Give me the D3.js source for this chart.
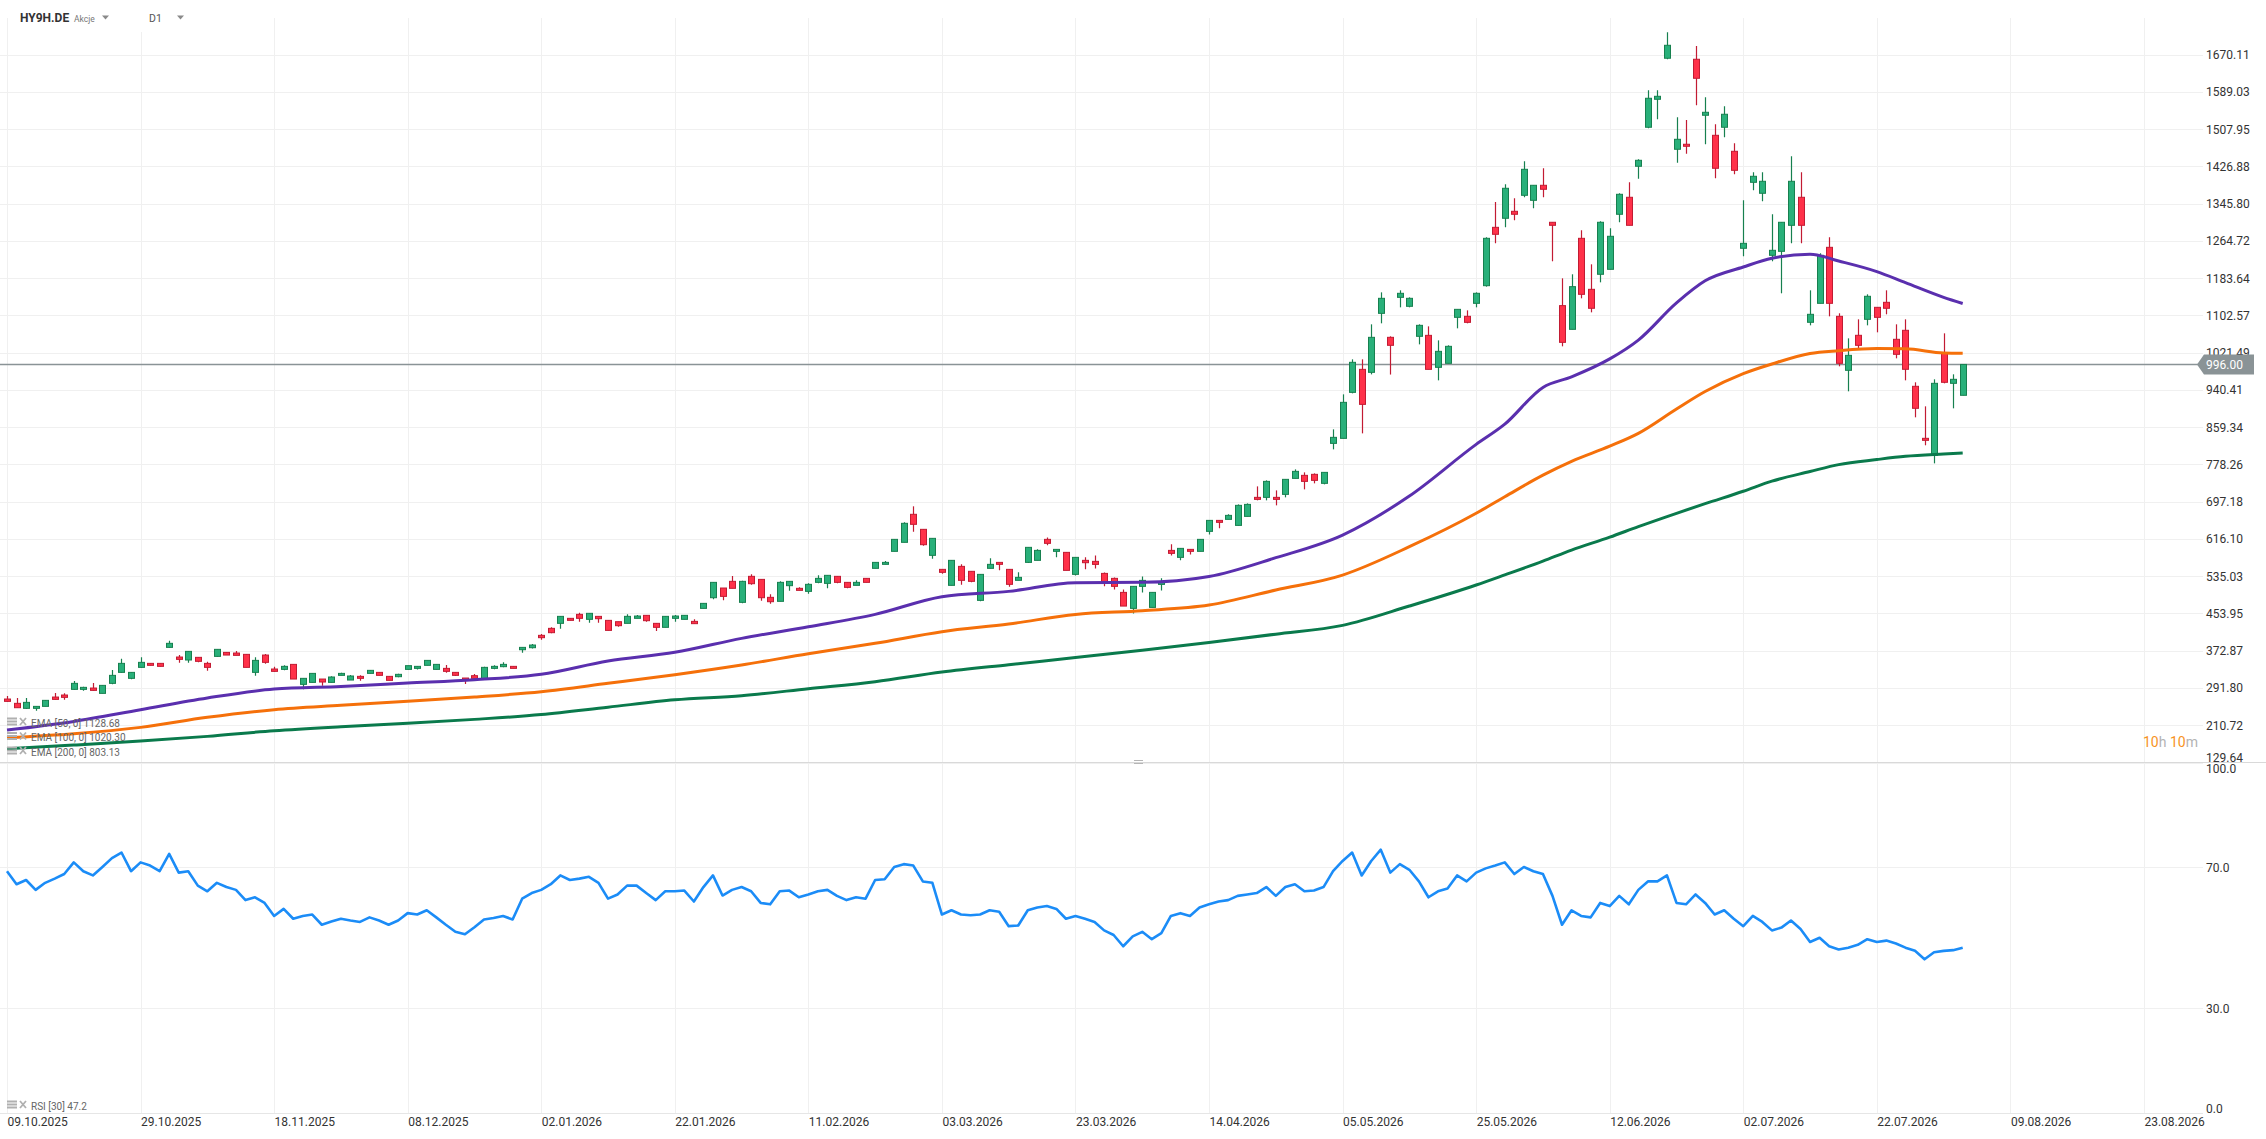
<!DOCTYPE html>
<html>
<head>
<meta charset="utf-8">
<script src="https://cdn.jsdelivr.net/npm/d3@7"></script>
<style>
  body { margin: 0; background: #fff; }
  svg { display: block; }
</style>
</head>
<body>
<script>
// HY9H.DE daily candles with EMA 50/100/200 and RSI(30)

var opens = [267.8,258.4,247.5,247.5,251.8,272.1,276.5,288.8,288.8,291.7,
  280.1,301.9,325.8,312.8,336.7,345.4,345.4,380.2,359.2,352.7,
  358.5,345.4,360.6,369.3,367.9,365.0,325.8,363.5,333.1,332.3,
  343.2,299.7,304.0,311.3,304.0,319.3,309.1,317.1,323.6,325.8,
  317.1,316.4,332.3,334.5,341.1,332.3,334.5,325.8,313.5,318.6,
  311.3,334.5,338.2,338.9,375.1,379.5,406.4,421.6,432.5,443.4,
  452.1,441.2,447.7,439.0,436.1,432.5,443.4,449.9,432.5,423.8,
  443.4,441.2,436.8,465.1,488.3,509.4,523.9,478.2,534.8,528.2,
  489.1,480.4,514.5,508.7,502.1,521.7,519.5,534.8,521.7,515.2,
  530.4,552.2,560.9,589.2,608.8,669.8,637.1,580.5,550.0,515.2,
  556.5,545.7,482.5,552.2,565.2,550.0,526.1,565.2,569.6,615.3,
  589.2,587.0,539.1,569.6,567.4,541.2,530.4,499.9,465.1,513.0,
  467.2,517.3,591.3,576.1,593.5,589.2,632.7,656.6,658.8,645.7,
  665.3,706.7,706.7,706.7,713.2,748.0,754.6,756.8,737.2,824.2,
  835.1,935.2,985.3,978.8,1107.2,1055.0,1142.0,1122.5,1057.2,1059.3,
  989.7,998.4,1098.5,1100.7,1129.0,1167.4,1294.4,1314.1,1329.3,1364.1,
  1353.2,1385.9,1305.4,1124.0,1072.4,1270.5,1159.5,1192.2,1203.0,1322.8,
  1359.8,1427.3,1512.2,1573.1,1662.4,1464.3,1475.2,1660.2,1538.3,1494.7,
  1512.2,1459.9,1248.8,1392.4,1368.5,1233.5,1242.2,1298.8,1359.8,1087.7,
  1129.0,1250.9,1100.7,983.2,1059.4,1094.2,1120.3,1131.2,1050.7,1070.3,
  948.4,835.2,798.2,1020.2,954.9,928.8];

var highs = [274.3,269.9,269.9,251.8,265.6,280.8,280.1,307.0,294.6,302.6,
  297.5,330.9,355.6,325.8,358.5,345.9,345.9,394.8,363.6,371.5,
  358.5,349.0,375.9,370.1,372.2,365.0,358.5,365.7,338.2,341.1,
  343.2,312.8,323.6,311.3,317.1,325.1,320.0,319.3,330.9,325.8,
  317.1,322.9,340.4,339.6,351.9,343.2,341.8,325.8,313.5,322.2,
  338.2,341.1,347.6,338.9,380.2,387.5,409.2,423.8,447.7,443.4,
  455.7,454.3,447.7,439.0,436.1,452.1,450.6,449.9,432.5,447.7,
  450.6,449.9,441.2,476.0,521.7,509.4,535.5,525.3,539.1,528.2,
  495.6,523.9,523.9,510.8,519.5,537.0,537.0,534.8,521.7,526.1,
  530.4,565.2,568.2,615.3,652.3,687.2,637.1,617.5,550.0,569.6,
  560.9,545.7,539.1,574.0,565.2,550.0,543.5,597.9,593.5,619.6,
  593.5,587.0,576.1,576.1,580.4,543.4,532.5,506.4,513.0,534.7,
  499.9,530.4,604.4,595.7,593.5,615.3,656.6,656.6,669.7,691.4,
  693.6,730.6,743.7,721.9,745.9,767.6,761.1,758.9,761.1,854.7,
  930.9,1007.1,1007.1,1083.3,1152.9,1057.2,1157.3,1142.0,1083.3,1078.9,
  1048.4,1037.6,1115.9,1113.7,1152.9,1272.7,1349.6,1388.1,1357.6,1438.1,
  1385.9,1422.9,1305.4,1183.4,1192.2,1287.9,1213.9,1307.5,1292.3,1368.5,
  1392.4,1442.5,1592.7,1592.7,1719.0,1533.9,1528.1,1689.2,1577.5,1518.7,
  1557.9,1477.3,1353.3,1414.2,1414.2,1322.8,1305.4,1449.0,1414.2,1157.3,
  1237.9,1272.7,1107.3,1052.8,1094.2,1148.6,1120.3,1157.3,1083.3,1094.2,
  957.1,904.8,963.6,1063.7,974.5,996.0];

var lows = [262.0,248.9,246.0,242.4,251.8,267.0,266.3,288.1,285.9,285.9,
  280.1,299.7,325.1,310.6,336.0,340.8,338.6,379.5,346.9,346.9,
  347.6,329.5,359.9,363.5,362.8,336.7,318.6,344.7,327.3,330.2,
  311.3,288.8,304.0,296.8,304.0,319.3,309.1,307.7,323.6,319.3,
  308.4,315.0,332.3,332.3,341.1,332.3,325.1,317.9,300.4,312.8,
  311.3,332.7,336.7,334.5,368.6,378.0,396.9,410.7,420.9,439.0,
  436.1,433.9,433.9,417.2,425.2,432.5,443.4,436.1,415.8,423.8,
  436.1,441.2,431.8,465.1,484.7,482.5,508.7,476.0,516.6,481.8,
  475.3,480.4,503.6,504.3,497.1,519.5,508.7,519.5,508.7,515.2,
  521.7,552.2,560.9,589.2,608.8,632.0,601.5,573.2,540.6,515.2,
  516.6,521.7,480.4,552.2,547.8,512.3,526.1,563.8,569.6,602.2,
  576.1,547.8,536.9,550.0,552.1,513.0,506.4,470.1,454.2,499.9,
  467.2,504.2,580.4,569.6,582.6,589.2,626.1,639.2,658.8,645.7,
  665.3,700.2,700.2,689.3,706.7,748.0,724.1,737.2,735.0,811.2,
  835.1,933.1,846.0,974.4,1085.5,974.0,1120.3,1120.3,1039.7,985.3,
  961.4,998.4,1074.6,1085.5,1120.3,1165.3,1259.6,1294.5,1309.7,1359.8,
  1335.8,1359.8,1220.5,1035.4,1072.4,1139.9,1109.4,1174.7,1203.0,1305.4,
  1298.8,1400.4,1510.0,1529.6,1660.2,1435.2,1454.8,1560.0,1475.2,1401.1,
  1490.4,1409.8,1231.4,1375.0,1351.1,1220.5,1150.8,1259.6,1259.6,1081.1,
  1129.0,1100.7,991.9,937.5,1028.9,1081.1,1065.9,1105.1,1009.3,961.4,
  880.9,820.0,780.7,954.9,900.5,928.8];

var closes = [262.7,248.9,260.5,251.8,264.9,267.0,271.4,301.9,293.2,286.6,
  297.5,319.3,345.4,325.8,347.6,341.1,338.9,389.0,354.1,371.5,
  349.8,336.7,375.9,363.5,362.8,336.7,351.9,347.6,328.0,338.9,
  311.3,312.8,323.6,304.8,315.7,323.6,317.9,312.8,330.2,319.3,
  308.4,321.5,340.4,338.9,351.9,343.2,328.0,319.3,309.1,312.8,
  336.7,338.9,343.2,334.5,380.2,385.3,401.3,412.2,447.7,439.0,
  443.4,454.3,442.6,417.2,427.4,447.7,448.4,438.3,423.8,447.7,
  448.4,449.9,431.8,476.0,521.7,491.2,508.7,523.9,518.8,488.3,
  479.6,521.7,523.9,504.3,517.4,530.4,537.0,521.7,510.8,521.7,
  521.7,565.2,565.2,615.3,650.2,648.0,603.7,617.5,543.5,569.6,
  526.1,523.9,539.1,560.9,560.9,517.4,532.6,597.9,591.3,606.6,
  593.5,547.8,576.1,564.5,560.8,519.5,513.0,470.1,513.0,526.0,
  499.9,521.7,584.8,595.7,589.2,615.3,656.6,652.3,667.5,689.3,
  691.4,702.3,741.5,702.3,745.9,763.3,741.5,743.7,761.1,837.3,
  913.5,1000.6,909.1,1055.0,1139.9,1037.6,1150.8,1139.9,1081.1,985.3,
  1024.5,1035.4,1115.9,1087.6,1150.8,1270.5,1279.2,1379.4,1322.8,1420.7,
  1385.9,1377.2,1298.8,1044.1,1165.3,1148.6,1118.2,1305.4,1274.9,1366.3,
  1298.8,1440.3,1575.3,1579.6,1690.6,1486.0,1470.8,1618.8,1544.8,1422.9,
  1540.5,1418.5,1259.6,1405.5,1394.6,1244.4,1305.4,1394.6,1298.8,1105.1,
  1233.5,1129.0,998.4,1015.8,1037.6,1144.3,1098.5,1118.2,1018.0,985.4,
  900.5,830.8,954.9,957.1,963.6,996.0];

var emaIndex = [0,7,14,21,28,35,42,49,56,63,70,77,84,91,98,105,112,119,126,133,140,147,
  154,157,161,164,168,171,175,178,182,185,189,192,196,199,203,205];
var ema50 = [200.3,219.1,244.6,270.0,289.5,295.3,302.6,309.9,321.5,350.5,369.4,399.8,425.2,452.1,
  490.5,502.1,521.0,521.7,534.5,575.4,624.7,709.6,
  822.0,866.0,946.0,969.0,1008.0,1049.0,1130.0,1178.0,1208.0,1227.0,1236.0,1221.0,1198.0,1174.0,1142.0,1128.68];
var ema100 = [183.6,192.3,206.1,227.9,244.6,254.0,262.7,272.1,283.7,301.9,320.7,341.8,366.4,389.0,
  414.3,431.0,452.0,460.0,472.3,505.0,537.6,599.3,
  672.0,708.0,755.0,785.0,818.0,846.0,899.0,937.0,976.0,997.0,1020.0,1026.0,1030.5,1030.0,1021.0,1020.30];
var ema200 = [159.6,167.6,176.3,186.5,198.8,207.5,214.8,223.5,234.0,250.0,266.0,275.0,290.2,305.5,
  326.5,342.5,358.0,374.0,391.0,409.0,428.1,470.2,
  516.0,538.0,568.0,592.0,620.0,643.0,672.0,693.0,720.0,742.0,763.0,778.0,789.0,796.0,801.0,803.13];

var rsi = [68.9,65.2,66.4,63.6,65.6,66.8,68.1,71.4,68.9,67.7,
  70.1,72.6,74.2,68.9,71.4,70.5,68.9,73.8,68.5,68.9,
  64.8,63.2,65.6,64.4,63.6,60.7,61.5,59.9,56.2,58.2,
  55.4,56.2,56.6,53.7,54.6,55.4,54.9,54.5,55.8,54.9,
  53.7,54.9,57.0,56.6,57.8,55.8,53.7,51.7,51.0,53.0,
  55.2,55.6,56.2,55.2,61.1,62.7,63.6,65.2,67.7,66.4,
  66.8,67.3,65.6,61.1,62.3,64.8,64.8,62.7,60.7,63.2,
  63.2,63.4,60.3,64.4,67.7,62.0,63.6,64.4,63.2,59.9,
  59.5,63.2,63.4,61.5,62.3,63.2,63.6,61.9,60.7,61.5,
  61.1,66.4,66.6,70.1,70.9,70.5,66.0,65.6,56.6,57.8,
  56.6,56.4,56.6,57.8,57.4,53.3,53.5,57.8,58.6,59.0,
  58.2,55.4,56.2,55.4,54.5,52.1,50.8,47.6,50.4,51.7,
  49.6,51.3,56.2,57.0,56.2,58.6,59.5,60.3,60.7,61.9,
  62.3,62.7,64.4,61.9,64.4,65.2,63.2,63.4,64.4,68.9,
  71.8,74.2,67.7,71.8,75.0,68.5,70.9,69.3,66.0,61.5,
  63.2,64.0,67.7,66.0,68.5,69.7,70.5,71.4,68.1,70.1,
  68.9,68.1,61.9,53.7,57.8,56.2,55.8,59.9,59.0,61.9,
  59.5,63.6,66.0,66.0,67.7,59.9,59.5,62.3,59.9,56.6,
  57.8,55.4,53.3,56.2,54.5,52.1,52.9,54.9,52.5,48.8,
  50.0,47.6,46.7,47.2,48.0,49.6,48.8,49.2,48.4,47.2,
  46.3,43.9,45.9,46.3,46.5,47.2];

var priceTickLabels = ['129.64','210.72','291.80','372.87','453.95','535.03','616.10','697.18','778.26','859.34',
  '940.41','1021.49','1102.57','1183.64','1264.72','1345.80','1426.88','1507.95','1589.03','1670.11'];
var rsiTicks = [0, 30, 70, 100];
var dateLabels = ['09.10.2025','29.10.2025','18.11.2025','08.12.2025','02.01.2026','22.01.2026','11.02.2026',
  '03.03.2026','23.03.2026','14.04.2026','05.05.2026','25.05.2026','12.06.2026','02.07.2026',
  '22.07.2026','09.08.2026','23.08.2026'];
var lastPrice = 996.00;

var width = 2266,
    height = 1139,
    plotRight = 2203,
    paneTop = 18,
    paneSplit = 762.5,
    rsiBottom = 1113.5;

var barsPerTick = 14;
var dateTickIdx = dateLabels.map(function(d, k){ return k * barsPerTick; });
var priceTickValues = priceTickLabels.map(Number);

var x = d3.scaleLinear().domain([0, 224]).range([7, 7 + 224 * 9.54]);
var y = d3.scaleLinear().domain([129.64, 1750.0]).range([paneSplit, paneTop]);
var yRsi = d3.scaleLinear().domain([0, 100]).range([1114, 761.6]);

var svg = d3.select('body').append('svg')
    .attr('width', width)
    .attr('height', height)
    .style('font-family', 'Roboto, sans-serif');

svg.append('defs').append('clipPath').attr('id', 'pricePane')
  .append('rect')
    .attr('x', 0).attr('y', paneTop)
    .attr('width', plotRight).attr('height', paneSplit - paneTop);

// grid
var grid = svg.append('g').attr('stroke', '#f0f0f0').attr('stroke-width', 1);

grid.selectAll('.hgrid').data(priceTickValues).enter()
  .append('line').attr('class', 'hgrid')
    .attr('x1', 0).attr('x2', plotRight)
    .attr('y1', function(d){ return Math.round(y(d)) + 0.5; })
    .attr('y2', function(d){ return Math.round(y(d)) + 0.5; });

grid.selectAll('.rgrid').data([30, 70]).enter()
  .append('line').attr('class', 'rgrid')
    .attr('x1', 0).attr('x2', plotRight)
    .attr('y1', function(d){ return Math.round(yRsi(d)) + 0.5; })
    .attr('y2', function(d){ return Math.round(yRsi(d)) + 0.5; });

grid.selectAll('.vgrid').data(dateTickIdx).enter()
  .append('line').attr('class', 'vgrid')
    .attr('x1', function(d){ return Math.round(x(d)) + 0.5; })
    .attr('x2', function(d){ return Math.round(x(d)) + 0.5; })
    .attr('y1', paneTop).attr('y2', rsiBottom);

// header backdrop hides grid behind symbol name
svg.append('rect').attr('x', 12).attr('y', 0).attr('width', 190).attr('height', 32).attr('fill', '#fff');

svg.append('line')
    .attr('x1', 0).attr('x2', width)
    .attr('y1', paneSplit).attr('y2', paneSplit)
    .attr('stroke', '#d9d9d9');
svg.append('line')
    .attr('x1', 0).attr('x2', plotRight)
    .attr('y1', rsiBottom).attr('y2', rsiBottom)
    .attr('stroke', '#e6e6e6');
svg.append('rect').attr('x', 1134).attr('y', 760).attr('width', 9).attr('height', 1).attr('fill', '#b5b5b5');
svg.append('rect').attr('x', 1134).attr('y', 763).attr('width', 9).attr('height', 1).attr('fill', '#b5b5b5');

// last price line
var yLast = y(lastPrice);
svg.append('line')
    .attr('x1', 0).attr('x2', 2198)
    .attr('y1', yLast).attr('y2', yLast)
    .attr('stroke', '#8a9396').attr('stroke-width', 1.5);

// candles
var candles = d3.range(closes.length).map(function(i){
  return {i: i, o: opens[i], h: highs[i], l: lows[i], c: closes[i]};
});
var upFill = '#29b07a', upLine = '#17804f', downFill = '#ff3149', downLine = '#c21b33';

var candleG = svg.append('g').attr('clip-path', 'url(#pricePane)');

candleG.selectAll('.wick').data(candles).enter()
  .append('line').attr('class', 'wick')
    .attr('x1', function(d){ return Math.round(x(d.i)) + 0.5; })
    .attr('x2', function(d){ return Math.round(x(d.i)) + 0.5; })
    .attr('y1', function(d){ return y(d.h); })
    .attr('y2', function(d){ return y(d.l); })
    .attr('stroke', function(d){ return d.c >= d.o ? upLine : downLine; })
    .attr('stroke-width', 1.2);

candleG.selectAll('.body').data(candles).enter()
  .append('rect').attr('class', 'body')
    .attr('x', function(d){ return Math.round(x(d.i)) - 2.5; })
    .attr('width', 6)
    .attr('y', function(d){ return y(Math.max(d.o, d.c)); })
    .attr('height', function(d){ return Math.max(1, y(Math.min(d.o, d.c)) - y(Math.max(d.o, d.c))); })
    .attr('fill', function(d){ return d.c >= d.o ? upFill : downFill; })
    .attr('stroke', function(d){ return d.c >= d.o ? upLine : downLine; })
    .attr('stroke-width', 1);

// moving averages
var emaLine = d3.line()
    .x(function(d){ return x(d.i); })
    .y(function(d){ return y(d.v); })
    .curve(d3.curveMonotoneX);

var emaSeries = [
  {name: 'EMA [50, 0]', values: ema50, color: '#5a2fae'},
  {name: 'EMA [100, 0]', values: ema100, color: '#f5700a'},
  {name: 'EMA [200, 0]', values: ema200, color: '#0a7a4c'}
];

candleG.selectAll('.ema').data(emaSeries).enter()
  .append('path').attr('class', 'ema')
    .attr('d', function(s){
      return emaLine(s.values.map(function(v, k){ return {i: emaIndex[k], v: v}; }));
    })
    .attr('fill', 'none')
    .attr('stroke', function(s){ return s.color; })
    .attr('stroke-width', 3)
    .attr('stroke-linejoin', 'round');

// RSI
var rsiLine = d3.line()
    .x(function(d, i){ return x(i); })
    .y(function(d){ return yRsi(d); });

svg.append('path')
    .attr('d', rsiLine(rsi))
    .attr('fill', 'none')
    .attr('stroke', '#1b8cf7')
    .attr('stroke-width', 2.6)
    .attr('stroke-linejoin', 'round');

// axes
var yAxis = d3.axisRight(y).tickValues(priceTickValues).tickFormat(d3.format('.2f')).tickSize(0).tickPadding(0);
var yAxisG = svg.append('g').attr('transform', 'translate(2206,0)').call(yAxis);
yAxisG.select('.domain').remove();
yAxisG.selectAll('text').attr('fill', '#333').style('font-size', '12px').style('font-family', 'Roboto, sans-serif');
yAxisG.selectAll('text').filter(function(d){ return d === 129.64; }).attr('y', -5);

var rAxis = d3.axisRight(yRsi).tickValues(rsiTicks).tickFormat(d3.format('.1f')).tickSize(0).tickPadding(0);
var rAxisG = svg.append('g').attr('transform', 'translate(2206,0)').call(rAxis);
rAxisG.select('.domain').remove();
rAxisG.selectAll('text').attr('fill', '#333').style('font-size', '12px').style('font-family', 'Roboto, sans-serif');
rAxisG.selectAll('text').filter(function(d){ return d === 100; }).attr('y', 7);
rAxisG.selectAll('text').filter(function(d){ return d === 0; }).attr('y', -5);

var xAxis = d3.axisBottom(x).tickValues(dateTickIdx)
    .tickFormat(function(d, i){ return dateLabels[i]; })
    .tickSize(0).tickPadding(4);
var xAxisG = svg.append('g').attr('transform', 'translate(0,' + rsiBottom + ')').call(xAxis);
xAxisG.select('.domain').remove();
xAxisG.selectAll('text')
    .attr('text-anchor', 'start')
    .attr('fill', '#333')
    .style('font-size', '12px')
    .style('font-family', 'Roboto, sans-serif');

// last price tag
svg.append('path')
    .attr('d', 'M2197,' + yLast + 'L2204,' + (yLast - 10) + 'L2254,' + (yLast - 10) +
               'L2254,' + (yLast + 10) + 'L2204,' + (yLast + 10) + 'Z')
    .attr('fill', '#8a9396');
svg.append('text')
    .attr('x', 2206).attr('y', yLast)
    .attr('dy', '0.35em')
    .attr('fill', '#fff')
    .style('font-size', '12px')
    .text(d3.format('.2f')(lastPrice));

var timer = svg.append('text')
    .attr('x', 2143).attr('y', 742).attr('dy', '0.35em')
    .style('font-size', '14px');
timer.append('tspan').attr('fill', '#f7931e').text('10');
timer.append('tspan').attr('fill', '#b3b3b3').text('h ');
timer.append('tspan').attr('fill', '#f7931e').text('10');
timer.append('tspan').attr('fill', '#b3b3b3').text('m');

// header
svg.append('text')
    .attr('x', 20).attr('y', 18).attr('dy', '0.35em')
    .attr('fill', '#333')
    .style('font-size', '12px').style('font-weight', 'bold')
    .text('HY9H.DE');
svg.append('text')
    .attr('x', 74).attr('y', 19).attr('dy', '0.35em')
    .attr('fill', '#777')
    .style('font-size', '8.5px')
    .text('Akcje');
svg.append('text')
    .attr('x', 149).attr('y', 18).attr('dy', '0.35em')
    .attr('fill', '#555')
    .style('font-size', '10.5px')
    .text('D1');
[102, 177].forEach(function(tx){
  svg.append('path')
      .attr('d', 'M' + tx + ',15.5L' + (tx + 7) + ',15.5L' + (tx + 3.5) + ',19.5Z')
      .attr('fill', '#8a8a8a');
});

// legends
var drawIcons = function(cy){
  var g = svg.append('g').attr('fill', '#b0b0b0').attr('stroke', '#b0b0b0');
  g.append('rect').attr('x', 7).attr('y', cy - 4).attr('width', 10).attr('height', 2).attr('stroke', 'none');
  g.append('rect').attr('x', 7).attr('y', cy - 1).attr('width', 10).attr('height', 2).attr('stroke', 'none');
  g.append('rect').attr('x', 7).attr('y', cy + 2).attr('width', 10).attr('height', 2).attr('stroke', 'none');
  g.append('path').attr('d', 'M20,' + (cy - 3.5) + 'L26,' + (cy + 3.5) + 'M26,' + (cy - 3.5) + 'L20,' + (cy + 3.5))
      .attr('stroke-width', 1.8).attr('fill', 'none');
};

var legendY = [723, 737.5, 752];
emaSeries.forEach(function(s, k){
  drawIcons(legendY[k] - 1.5);
  svg.append('text')
      .attr('x', 31).attr('y', legendY[k]).attr('dy', '0.35em')
      .attr('fill', '#666')
      .style('font-size', '10px')
      .text(s.name + ' ' + d3.format('.2f')(s.values[s.values.length - 1]));
});

drawIcons(1104.5);
svg.append('text')
    .attr('x', 31).attr('y', 1106).attr('dy', '0.35em')
    .attr('fill', '#666')
    .style('font-size', '10px')
    .text('RSI [30] ' + d3.format('.1f')(rsi[rsi.length - 1]));
</script>
</body>
</html>
